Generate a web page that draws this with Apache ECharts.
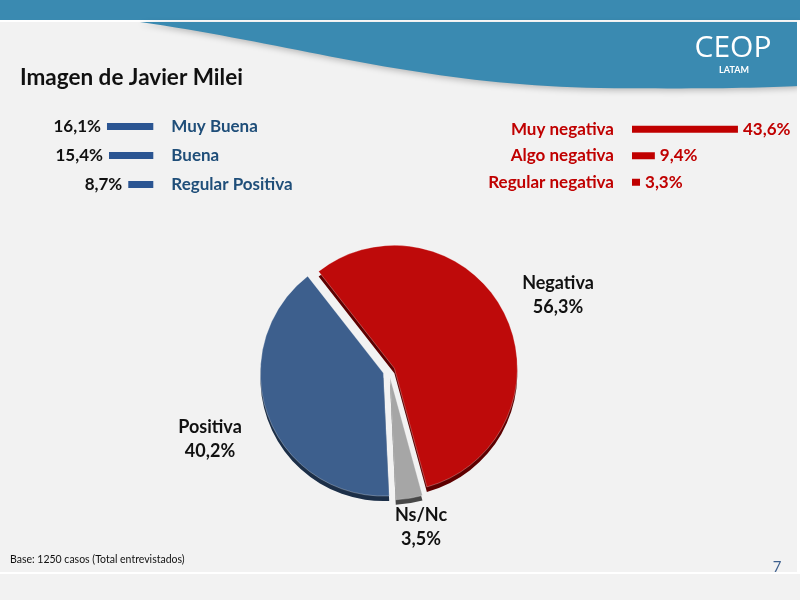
<!DOCTYPE html>
<html>
<head>
<meta charset="utf-8">
<script src="https://cdn.jsdelivr.net/npm/echarts@6/dist/echarts.min.js"></script>
<style>
html,body{margin:0;padding:0;background:#F2F2F2;}
#c{width:800px;height:600px;}
</style>
</head>
<body>
<div id="c"></div>
<script>
// ---- data ----
const title = 'Imagen de Javier Milei';
const posCats = ['Muy Buena', 'Buena', 'Regular Positiva'];
const posVals = [16.1, 15.4, 8.7];
const negCats = ['Muy negativa', 'Algo negativa', 'Regular negativa'];
const negVals = [43.6, 9.4, 3.3];
const pieCats = ['Negativa', 'Ns/Nc', 'Positiva'];
const pieVals = [56.3, 3.5, 40.2];
const footnote = 'Base: 1250 casos (Total entrevistados)';
const pageNum = '7';

// ---- style / layout ----
const FONT = 'Lato, "Open Sans", sans-serif';
const pieColors = ['#BE0A0A', '#A6A6A6', '#3D5F8D'];
const pieDark = ['#5E0000', '#474747', '#1C2F48'];
const pieLabelPos = [[558, 295], [421, 527], [210, 439]];
const fmt = v => v.toFixed(1).replace('.', ',') + '%';

// decorative header wave (two cubic segments sampled into a polygon)
function cubic(p0, p1, p2, p3, n) {
  const out = [];
  for (let i = 0; i <= n; i++) {
    const t = i / n, u = 1 - t;
    out.push([
      u*u*u*p0[0] + 3*u*u*t*p1[0] + 3*u*t*t*p2[0] + t*t*t*p3[0],
      u*u*u*p0[1] + 3*u*u*t*p1[1] + 3*u*t*t*p2[1] + t*t*t*p3[1]
    ]);
  }
  return out;
}
const wavePts = cubic([140, 22], [300, 45], [420, 85], [600, 88], 40)
  .concat(cubic([600, 88], [700, 89], [760, 88], [800, 86], 20).slice(1))
  .concat([[800, 22]]);

const chart = echarts.init(document.getElementById('c'), null, {renderer: 'canvas'});

const pieData = (colors) => pieCats.map((n, i) => ({
  name: n, value: pieVals[i], selected: true,
  itemStyle: {color: colors[i]}
}));

const pieLabelGraphics = pieCats.map((n, i) => ({
  type: 'text', x: pieLabelPos[i][0], y: pieLabelPos[i][1], z: 5,
  style: {text: n + '\n' + fmt(pieVals[i]), fill: '#111111', font: 'bold 18px ' + FONT,
    lineHeight: 24, align: 'center', verticalAlign: 'middle'}
}));

const option = {
  animation: false,
  backgroundColor: '#F2F2F2',
  textStyle: {fontFamily: FONT},
  graphic: [
    {type: 'rect', shape: {x: 0, y: 0, width: 800, height: 20}, style: {fill: '#3A8AB1'}, z: 1},
    {type: 'rect', shape: {x: 0, y: 20, width: 800, height: 2}, style: {fill: '#FFFFFF'}, z: 1},
    {type: 'polygon', shape: {points: wavePts},
      style: {fill: '#3A8AB1', shadowColor: 'rgba(0,0,0,0.25)', shadowBlur: 6, shadowOffsetY: 2}, z: 1},
    {type: 'rect', shape: {x: 0, y: 572, width: 797, height: 2}, style: {fill: '#FFFFFF'}, z: 1},
    {type: 'rect', shape: {x: 797, y: 21, width: 3, height: 553}, style: {fill: '#FFFFFF'}, z: 1},
    {type: 'text', x: 733, y: 48, style: {text: 'CEOP', fill: '#FFFFFF', font: '30px "Open Sans", Lato, sans-serif', align: 'center', verticalAlign: 'middle'}, z: 2},
    {type: 'text', x: 734, y: 70, style: {text: 'LATAM', fill: '#FFFFFF', font: 'bold 9px Lato, sans-serif', align: 'center', verticalAlign: 'middle'}, z: 2},
    {type: 'text', x: 20, y: 78, style: {text: title, fill: '#111111', font: 'bold 22.5px ' + FONT, align: 'left', verticalAlign: 'middle'}, z: 2},
    {type: 'text', x: 10, y: 560, style: {text: footnote, fill: '#111111', font: '10.5px ' + FONT, align: 'left', verticalAlign: 'middle'}, z: 2},
    {type: 'text', x: 777, y: 567, style: {text: pageNum, fill: '#3D5F8D', font: '15px ' + FONT, align: 'center', verticalAlign: 'middle'}, z: 2}
  ].concat(pieLabelGraphics),
  grid: [
    {left: 67, right: 646.7, top: 112, height: 87, outerBoundsMode: 'none', containLabel: false},
    {left: 632, right: 46.5, top: 116, height: 79.5, outerBoundsMode: 'none', containLabel: false}
  ],
  xAxis: [
    {gridIndex: 0, type: 'value', min: 0, max: 30, inverse: true, show: false},
    {gridIndex: 1, type: 'value', min: 0, max: 50, show: false}
  ],
  yAxis: [
    {gridIndex: 0, type: 'category', data: posCats, inverse: true, position: 'right',
      axisLine: {show: false}, axisTick: {show: false}, splitLine: {show: false},
      axisLabel: {margin: 18, align: 'left', color: '#1F4E79', fontWeight: 'bold', fontSize: 17, fontFamily: FONT}},
    {gridIndex: 1, type: 'category', data: negCats, inverse: true, position: 'left',
      axisLine: {show: false}, axisTick: {show: false}, splitLine: {show: false},
      axisLabel: {margin: 18, align: 'right', color: '#C00000', fontWeight: 'bold', fontSize: 17, fontFamily: FONT}}
  ],
  series: [
    {type: 'bar', xAxisIndex: 0, yAxisIndex: 0, data: posVals, barWidth: 7,
      itemStyle: {color: '#2B5592'}, silent: true,
      label: {show: true, position: 'left', distance: 6, color: '#111111', fontWeight: 'bold', fontSize: 17, fontFamily: FONT,
        formatter: p => fmt(p.value)}},
    {type: 'bar', xAxisIndex: 1, yAxisIndex: 1, data: negVals, barWidth: 7,
      itemStyle: {color: '#C00000'}, silent: true,
      label: {show: true, position: 'right', distance: 5, color: '#C00000', fontWeight: 'bold', fontSize: 17, fontFamily: FONT,
        formatter: p => fmt(p.value)}},
    {type: 'pie', name: 'depth', center: [389, 376], radius: [0, 123], startAngle: 128, clockwise: true,
      selectedMode: 'multiple', selectedOffset: 6, silent: true, z: 1, avoidLabelOverlap: false,
      label: {show: false}, labelLine: {show: false},
      data: pieData(pieDark)},
    {type: 'pie', name: 'main', center: [389, 371], radius: [0, 123], startAngle: 128, clockwise: true,
      selectedMode: 'multiple', selectedOffset: 6, silent: true, z: 2, avoidLabelOverlap: false,
      itemStyle: {borderColor: 'rgba(255,255,255,0.35)', borderWidth: 0.8},
      label: {show: false}, labelLine: {show: false},
      data: pieData(pieColors)}
  ]
};
chart.setOption(option);
</script>
</body>
</html>
